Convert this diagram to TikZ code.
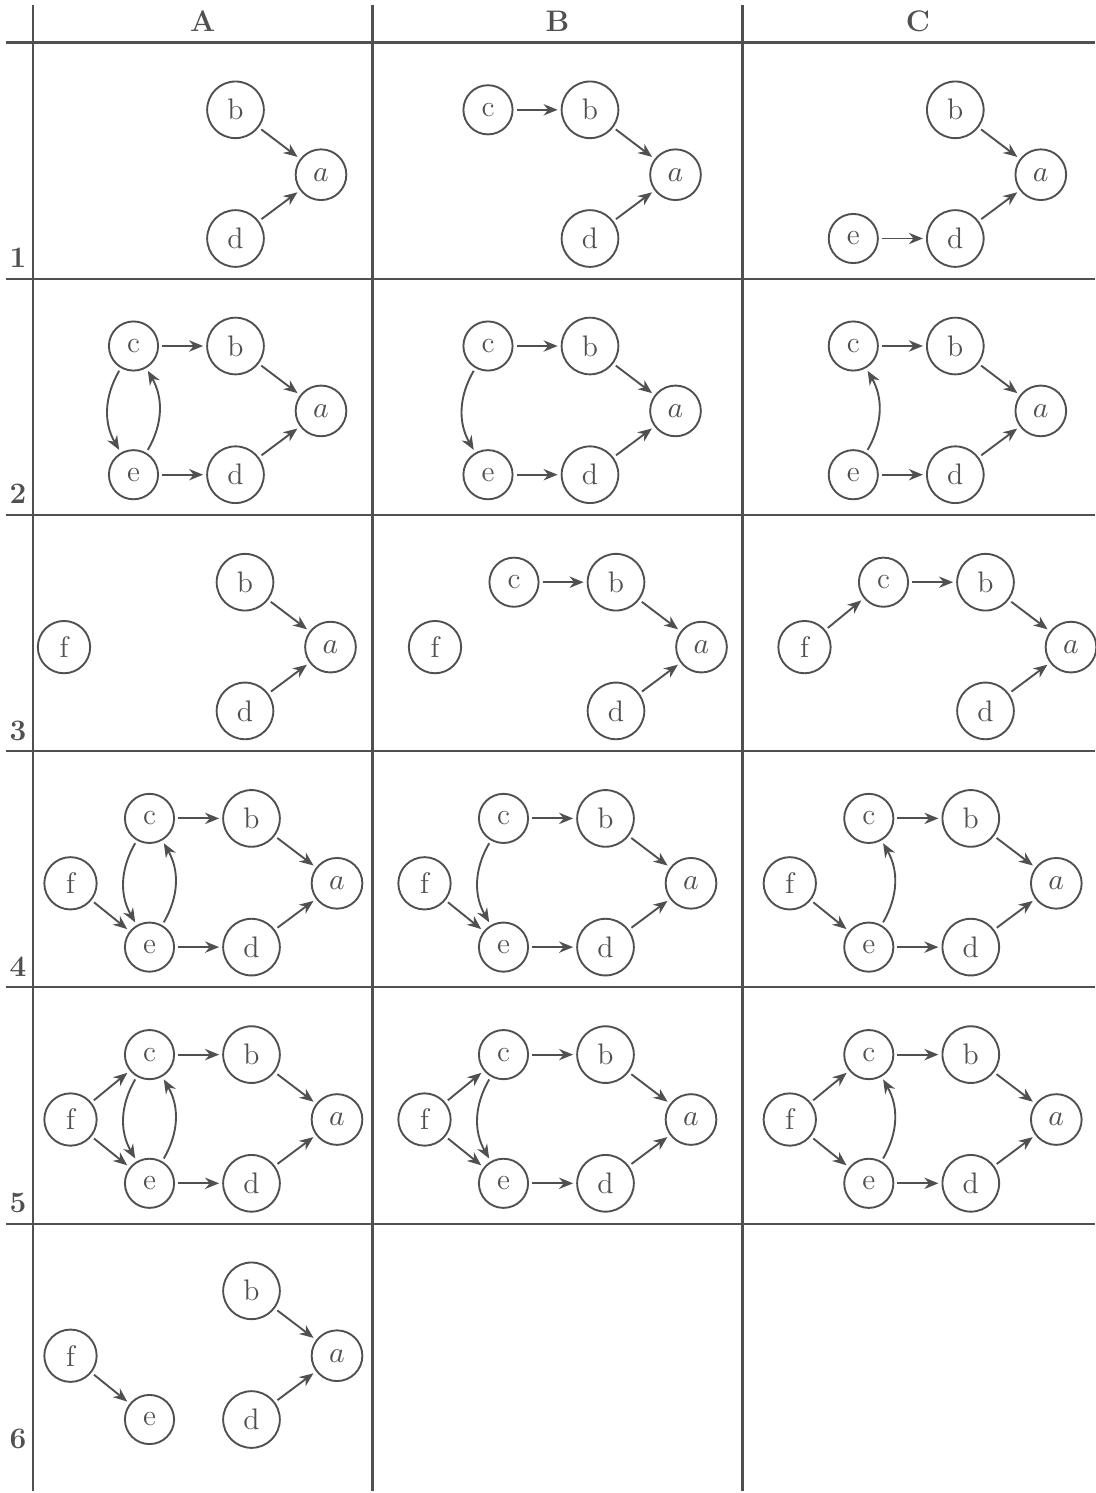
\documentclass[tikz,border=0pt]{standalone}
\usetikzlibrary{arrows.meta}
\definecolor{ink}{RGB}{80,80,80}
\newcommand\mkb[1]{\node[vtx] (#1b) at ({\bx},{-\T-67.3}) {b};}
\newcommand\mka[1]{\node[vtx] (#1a) at ({\bx+85.5},{-\T-132.2}) {$a$};}
\newcommand\mkd[1]{\node[vtx] (#1d) at ({\bx},{-\T-196}) {d};}
\newcommand\mkc[1]{\node[vtx] (#1c) at ({\bx-102},{-\T-67.3}) {c};}
\newcommand\mke[1]{\node[vtx] (#1e) at ({\bx-102},{-\T-196}) {e};}
\newcommand\mkf[1]{\node[vtx] (#1f) at ({\bx-181},{-\T-132.2}) {f};}
\begin{document}
\begin{tikzpicture}[x=0.37037pt,y=0.37037pt,
  every node/.style={font=\fontsize{11}{13.2}\selectfont},
  vtx/.style={circle,draw=ink,line width=0.7pt,text=ink,inner sep=4.0pt,outer sep=1.5pt},
  arr/.style={draw=ink,line width=0.7pt,-{Stealth[length=5.2pt,width=4.2pt,inset=1.7pt]}},
  hrule/.style={draw=ink,line width=0.75pt},
  vrule/.style={draw=ink,line width=0.75pt},
  hdr/.style={text=ink,font=\fontsize{11}{13.2}\selectfont\bfseries,inner sep=0pt},
  rowlab/.style={text=ink,font=\fontsize{11}{13.2}\selectfont\bfseries,inner sep=0pt,anchor=base}]
\useasboundingbox (0,0) rectangle (1095,-1493);
% table rules
\foreach \yy in {42.5,278.7,514.9,751.1,987.3,1223.5} {\draw[hrule] (6,-\yy) -- (1095,-\yy);}
\foreach \xx in {33,372.5,742.5} {\draw[vrule] (\xx,-5) -- (\xx,-1491);}
% headers
\node[hdr] (hA) at (202.7,-21) {A};
\node[hdr] (hB) at (557.5,-21) {B};
\node[hdr] (hC) at (918,-21) {C};
\node[rowlab] (r1) at (18,-267.7) {1};
\node[rowlab] (r2) at (18,-503.9) {2};
\node[rowlab] (r3) at (18,-740.1) {3};
\node[rowlab] (r4) at (18,-976.3) {4};
\node[rowlab] (r5) at (18,-1212.5) {5};
\node[rowlab] (r6) at (18,-1448.7) {6};
% ---------- row 1
\def\T{42.5}
\def\bx{235.5}
\mkb{1A}\mka{1A}\mkd{1A}
\draw[arr] (1Ab) -- (1Aa); \draw[arr] (1Ad) -- (1Aa);
\def\bx{590}
\mkb{1B}\mka{1B}\mkd{1B}\mkc{1B}
\draw[arr] (1Bc) -- (1Bb); \draw[arr] (1Bb) -- (1Ba); \draw[arr] (1Bd) -- (1Ba);
\def\bx{955.3}
\mkb{1C}\mka{1C}\mkd{1C}\mke{1C}
\draw[arr] (1Cb) -- (1Ca); \draw[arr] (1Ce) -- (1Cd); \draw[arr] (1Cd) -- (1Ca);
% ---------- row 2
\def\T{278.7}
\def\bx{235.5}
\mkb{2A}\mka{2A}\mkd{2A}\mkc{2A}\mke{2A}
\draw[arr] (2Ac) -- (2Ab); \draw[arr] (2Ab) -- (2Aa); \draw[arr] (2Ae) -- (2Ad); \draw[arr] (2Ad) -- (2Aa);
\draw[arr] (2Ac) to[bend right=30] (2Ae); \draw[arr] (2Ae) to[bend right=30] (2Ac);
\def\bx{590}
\mkb{2B}\mka{2B}\mkd{2B}\mkc{2B}\mke{2B}
\draw[arr] (2Bc) -- (2Bb); \draw[arr] (2Bb) -- (2Ba); \draw[arr] (2Be) -- (2Bd); \draw[arr] (2Bd) -- (2Ba);
\draw[arr] (2Bc) to[bend right=30] (2Be);
\def\bx{955.3}
\mkb{2C}\mka{2C}\mkd{2C}\mkc{2C}\mke{2C}
\draw[arr] (2Cc) -- (2Cb); \draw[arr] (2Cb) -- (2Ca); \draw[arr] (2Ce) -- (2Cd); \draw[arr] (2Cd) -- (2Ca);
\draw[arr] (2Ce) to[bend right=30] (2Cc);
% ---------- row 3
\def\T{514.9}
\def\bx{245}
\mkb{3A}\mka{3A}\mkd{3A}\mkf{3A}
\draw[arr] (3Ab) -- (3Aa); \draw[arr] (3Ad) -- (3Aa);
\def\bx{616}
\mkb{3B}\mka{3B}\mkd{3B}\mkc{3B}\mkf{3B}
\draw[arr] (3Bc) -- (3Bb); \draw[arr] (3Bb) -- (3Ba); \draw[arr] (3Bd) -- (3Ba);
\def\bx{985.5}
\mkb{3C}\mka{3C}\mkd{3C}\mkc{3C}\mkf{3C}
\draw[arr] (3Cf) -- (3Cc); \draw[arr] (3Cc) -- (3Cb); \draw[arr] (3Cb) -- (3Ca); \draw[arr] (3Cd) -- (3Ca);
% ---------- row 4
\def\T{751.1}
\def\bx{251.5}
\mkb{4A}\mka{4A}\mkd{4A}\mkc{4A}\mke{4A}\mkf{4A}
\draw[arr] (4Af) -- (4Ae); \draw[arr] (4Ac) -- (4Ab); \draw[arr] (4Ab) -- (4Aa); \draw[arr] (4Ae) -- (4Ad); \draw[arr] (4Ad) -- (4Aa);
\draw[arr] (4Ac) to[bend right=30] (4Ae); \draw[arr] (4Ae) to[bend right=30] (4Ac);
\def\bx{605.5}
\mkb{4B}\mka{4B}\mkd{4B}\mkc{4B}\mke{4B}\mkf{4B}
\draw[arr] (4Bf) -- (4Be); \draw[arr] (4Bc) -- (4Bb); \draw[arr] (4Bb) -- (4Ba); \draw[arr] (4Be) -- (4Bd); \draw[arr] (4Bd) -- (4Ba);
\draw[arr] (4Bc) to[bend right=30] (4Be);
\def\bx{970.8}
\mkb{4C}\mka{4C}\mkd{4C}\mkc{4C}\mke{4C}\mkf{4C}
\draw[arr] (4Cf) -- (4Ce); \draw[arr] (4Cc) -- (4Cb); \draw[arr] (4Cb) -- (4Ca); \draw[arr] (4Ce) -- (4Cd); \draw[arr] (4Cd) -- (4Ca);
\draw[arr] (4Ce) to[bend right=30] (4Cc);
% ---------- row 5
\def\T{987.3}
\def\bx{251.5}
\mkb{5A}\mka{5A}\mkd{5A}\mkc{5A}\mke{5A}\mkf{5A}
\draw[arr] (5Af) -- (5Ac); \draw[arr] (5Af) -- (5Ae); \draw[arr] (5Ac) -- (5Ab); \draw[arr] (5Ab) -- (5Aa); \draw[arr] (5Ae) -- (5Ad); \draw[arr] (5Ad) -- (5Aa);
\draw[arr] (5Ac) to[bend right=30] (5Ae); \draw[arr] (5Ae) to[bend right=30] (5Ac);
\def\bx{605.5}
\mkb{5B}\mka{5B}\mkd{5B}\mkc{5B}\mke{5B}\mkf{5B}
\draw[arr] (5Bf) -- (5Bc); \draw[arr] (5Bf) -- (5Be); \draw[arr] (5Bc) -- (5Bb); \draw[arr] (5Bb) -- (5Ba); \draw[arr] (5Be) -- (5Bd); \draw[arr] (5Bd) -- (5Ba);
\draw[arr] (5Bc) to[bend right=30] (5Be);
\def\bx{970.8}
\mkb{5C}\mka{5C}\mkd{5C}\mkc{5C}\mke{5C}\mkf{5C}
\draw[arr] (5Cf) -- (5Cc); \draw[arr] (5Cf) -- (5Ce); \draw[arr] (5Cc) -- (5Cb); \draw[arr] (5Cb) -- (5Ca); \draw[arr] (5Ce) -- (5Cd); \draw[arr] (5Cd) -- (5Ca);
\draw[arr] (5Ce) to[bend right=30] (5Cc);
% ---------- row 6
\def\T{1223.5}
\def\bx{251.5}
\mkb{6A}\mka{6A}\mkd{6A}\mke{6A}\mkf{6A}
\draw[arr] (6Af) -- (6Ae); \draw[arr] (6Ab) -- (6Aa); \draw[arr] (6Ad) -- (6Aa);
\end{tikzpicture}
\end{document}
